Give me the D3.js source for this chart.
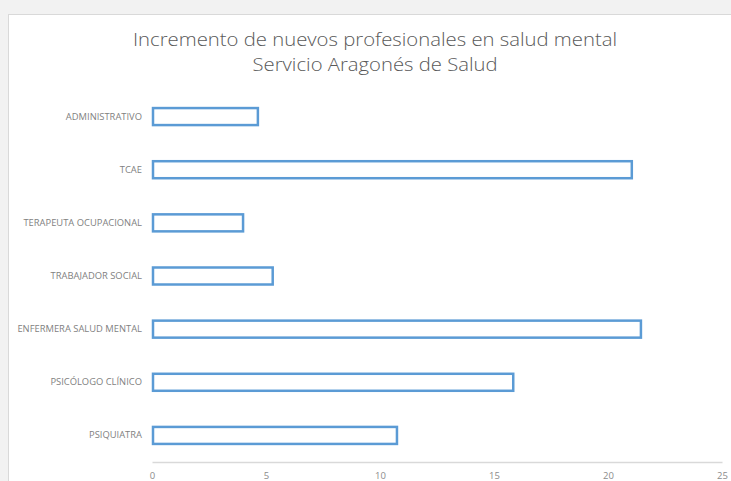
<!DOCTYPE html>
<html>
<head>
<meta charset="utf-8">
<script src="https://cdn.jsdelivr.net/npm/d3@7"></script>
<style>
  html, body { margin: 0; padding: 0; background: #f2f2f2; }
  svg { display: block; }
</style>
</head>
<body>
<svg id="chart" width="731" height="481"></svg>
<script>
// data, top to bottom as in the picture
const categories = [
  "ADMINISTRATIVO",
  "TCAE",
  "TERAPEUTA OCUPACIONAL",
  "TRABAJADOR SOCIAL",
  "ENFERMERA SALUD MENTAL",
  "PSICÓLOGO CLÍNICO",
  "PSIQUIATRA"
];
const values = [4.6, 21.0, 3.95, 5.25, 21.4, 15.8, 10.7];
const xTicks = [0, 5, 10, 15, 20, 25];
const titleLines = [
  "Incremento de nuevos profesionales en salud mental",
  "Servicio Aragonés de Salud"
];

const width = 731, height = 481;
const margin = { top: 90, left: 152, right: 9, bottom: 19 };
const font = "'Open Sans', 'Noto Sans', sans-serif";

const svg = d3.select("#chart");

// chart frame (picture is cropped on the right and bottom)
svg.append("rect")
  .attr("x", 8.5).attr("y", 14.5)
  .attr("width", width).attr("height", height)
  .attr("fill", "#ffffff")
  .attr("stroke", "#d9d9d9");

const x = d3.scaleLinear()
  .domain([0, 25])
  .range([margin.left, width - margin.right]);

const y = d3.scaleBand()
  .domain(categories)
  .range([margin.top, height - margin.bottom])
  .paddingInner(0.68)
  .paddingOuter(0.34);

// title
svg.append("g")
  .selectAll("text")
  .data(titleLines)
  .join("text")
  .attr("x", 375)
  .attr("y", (d, i) => 46 + i * 25)
  .attr("text-anchor", "middle")
  .attr("font-family", font)
  .attr("font-size", 18.5)
  .attr("font-weight", 300)
  .attr("fill", "#595959")
  .attr("textLength", (d, i) => i === 0 ? 484 : 245)
  .attr("lengthAdjust", "spacingAndGlyphs")
  .text(d => d);

// x axis
const xAxis = svg.append("g")
  .attr("transform", `translate(0,${height - margin.bottom})`)
  .call(d3.axisBottom(x).tickValues(xTicks).tickSize(0).tickPadding(10));
xAxis.select(".domain").attr("stroke", "#d9d9d9").attr("stroke-width", 1.5);
xAxis.selectAll("text")
  .attr("font-family", font)
  .attr("font-size", 9.5)
  .attr("fill", "#8c8c8c");

// y axis labels
const yAxis = svg.append("g")
  .attr("transform", `translate(${margin.left},0)`)
  .call(d3.axisLeft(y).tickSize(0).tickPadding(10));
yAxis.select(".domain").remove();
yAxis.selectAll("text")
  .attr("font-family", font)
  .attr("font-size", 9.4)
  .attr("fill", "#7f7f7f");

// bars
svg.append("g")
  .selectAll("rect")
  .data(values)
  .join("rect")
  .attr("x", x(0) + 1)
  .attr("y", (d, i) => y(categories[i]))
  .attr("width", d => x(d) - x(0))
  .attr("height", y.bandwidth())
  .attr("fill", "#ffffff")
  .attr("stroke", "#5b9bd5")
  .attr("stroke-width", 2.5);
</script>
</body>
</html>
